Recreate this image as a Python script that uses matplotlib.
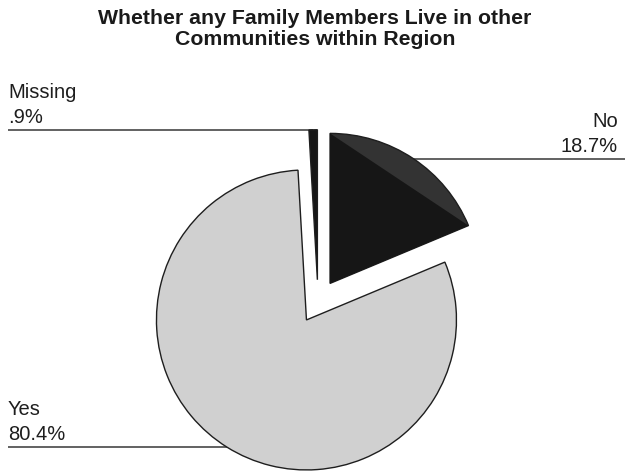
import math
import matplotlib
matplotlib.use("Agg")
import matplotlib.pyplot as plt
from matplotlib.patches import Polygon

plt.rcParams["font.family"] = ["Liberation Sans", "DejaVu Sans"]

title_lines = ["Whether any Family Members Live in other", "Communities within Region"]
categories = ["No", "Yes", "Missing"]
percents = [18.7, 80.4, 0.9]
colors = ["#333333", "#d0d0d0", "#161616"]

W, H = 625, 474
fig = plt.figure(figsize=(W / 100, H / 100), dpi=100)
ax = fig.add_axes([0, 0, 1, 1])

center = (318, 172.5)
radius = 150
gap = 21.75

wedges, _ = ax.pie(
    percents,
    explode=[gap] * len(percents),
    colors=colors,
    startangle=90,
    counterclock=False,
    radius=radius,
    center=center,
    frame=True,
    wedgeprops=dict(edgecolor="#1e1e1e", linewidth=1.0),
)

# darker inner triangle on the "No" slice, leaving the rim a lighter shade
w = wedges[0]
cx, cy = w.center
pts = [(cx, cy)]
for t in (w.theta1, w.theta2):
    pts.append((cx + w.r * math.cos(math.radians(t)), cy + w.r * math.sin(math.radians(t))))
ax.add_patch(Polygon(pts, closed=True, facecolor="#161616", edgecolor="none", zorder=w.get_zorder() + 0.1))

# leader lines and labels
for wdg, name, pct in zip(wedges, categories, percents):
    mid = math.radians((wdg.theta1 + wdg.theta2) / 2)
    ox = wdg.center[0] + wdg.r * math.cos(mid)
    oy = wdg.center[1] + wdg.r * math.sin(mid)
    pct_txt = f"{pct:.1f}%"
    if pct_txt.startswith("0"):
        pct_txt = pct_txt[1:]
    if math.cos(mid) > 0:
        ax.plot([ox, W], [oy, oy], color="#555555", lw=1.3, solid_capstyle="butt", zorder=0)
        tx, ha = W - 7, "right"
    else:
        ax.plot([8, ox], [oy, oy], color="#555555", lw=1.3, solid_capstyle="butt", zorder=0)
        tx, ha = 8, "left"
    ax.text(tx, oy + 7, pct_txt, ha=ha, va="baseline", fontsize=14.5, color="#1e1e1e")
    ax.text(tx, oy + 32, name, ha=ha, va="baseline", fontsize=14.5, color="#1e1e1e")

ax.text(315, H - 24, title_lines[0], ha="center", va="baseline", fontsize=15.3, fontweight="bold", color="#1a1a1a")
ax.text(315, H - 45, title_lines[1], ha="center", va="baseline", fontsize=15.3, fontweight="bold", color="#1a1a1a")

ax.set_xlim(0, W)
ax.set_ylim(0, H)
ax.set_aspect("auto")
ax.axis("off")

fig.savefig("out.png", dpi=100, facecolor="white")
